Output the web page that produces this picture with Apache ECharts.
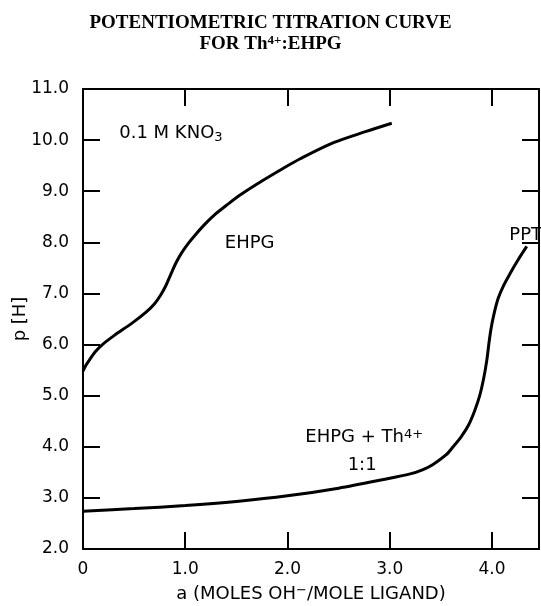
<!DOCTYPE html>
<html>
<head>
<meta charset="utf-8">
<script src="https://cdn.jsdelivr.net/npm/echarts@6/dist/echarts.min.js"></script>
<style>
html,body{margin:0;padding:0;background:#fff;}
#c{width:541px;height:606px;}
</style>
</head>
<body>
<div id="c"></div>
<script>
// EHPG alone (a, p[H])
var ehpgA = [0, 0.03, 0.07, 0.12, 0.19, 0.30, 0.48, 0.62, 0.70, 0.76, 0.81, 0.86, 0.91, 0.96, 1.03, 1.10, 1.20, 1.30, 1.40, 1.54, 1.75, 1.96, 2.12, 2.45, 2.77, 3.02];
var ehpgP = [5.48, 5.60, 5.72, 5.86, 6.00, 6.17, 6.42, 6.64, 6.80, 6.97, 7.15, 7.38, 7.60, 7.78, 7.98, 8.15, 8.37, 8.56, 8.72, 8.93, 9.20, 9.45, 9.63, 9.95, 10.17, 10.33];
// EHPG + Th4+ 1:1
var thA = [0, 0.5, 1.0, 1.5, 2.0, 2.5, 2.94, 3.2, 3.32, 3.42, 3.55, 3.62, 3.70, 3.77, 3.83, 3.88, 3.92, 3.95, 3.97, 3.99, 4.02, 4.06, 4.11, 4.18, 4.25, 4.34];
var thP = [2.74, 2.79, 2.85, 2.93, 3.04, 3.19, 3.36, 3.47, 3.55, 3.65, 3.84, 4.00, 4.20, 4.42, 4.70, 5.00, 5.35, 5.70, 6.02, 6.30, 6.60, 6.90, 7.14, 7.40, 7.64, 7.92];
// axis ranges / ticks
var xMin = 0, xMax = 4.46, xInterval = 1;
var yMin = 2, yMax = 11, yInterval = 1;
// annotations
var annoText = ['{t|0.1 M KNO}{sub|3}', 'EHPG', '{t|EHPG + Th}{sup|4+}', '1:1', 'PPT'];
var annoA = [0.86, 1.63, 2.75, 2.73, 4.33];
var annoP = [10.12, 7.96, 4.17, 3.62, 8.11];

var FONT = '"DejaVu Sans", sans-serif';
var INK = '#000';

function zip(a, b) { return a.map(function (v, i) { return [v, b[i]]; }); }

var chart = echarts.init(document.getElementById('c'), null, {renderer: 'canvas'});

var tickStyle = {show: true, inside: true, length: 17, lineStyle: {color: INK, width: 2}};
var lineStyleAxis = {show: true, onZero: false, lineStyle: {color: INK, width: 2}};

var labelRich = {
  t: {fontFamily: FONT, fontSize: 18, color: INK, lineHeight: 20, verticalAlign: 'top'},
  sub: {fontFamily: FONT, fontSize: 13, color: INK, lineHeight: 13, verticalAlign: 'bottom', padding: [10, 0, 0, 0]},
  sup: {fontFamily: FONT, fontSize: 13, color: INK, lineHeight: 13, verticalAlign: 'top'}
};

var option = {
  backgroundColor: '#fff',
  animation: false,
  title: {
    text: '{a|POTENTIOMETRIC TITRATION CURVE}\n{a|FOR Th}{s|4+}{a|:EHPG}',
    left: 'center',
    top: 8,
    textStyle: {
      rich: {
        a: {fontFamily: '"Liberation Serif", serif', fontSize: 19, fontWeight: 'bold', color: INK, lineHeight: 21},
        s: {fontFamily: '"Liberation Serif", serif', fontSize: 13, fontWeight: 'bold', color: INK, lineHeight: 13, verticalAlign: 'top'}
      }
    }
  },
  grid: {left: 83, right: 2, top: 89, bottom: 57, containLabel: false, outerBoundsMode: 'none'},
  xAxis: [{
    type: 'value', position: 'bottom', min: xMin, max: xMax, interval: xInterval,
    axisLine: lineStyleAxis, axisTick: tickStyle, splitLine: {show: false},
    axisLabel: {
      margin: 12, color: INK, fontFamily: FONT, fontSize: 17,
      formatter: function (v) { if (v === 0) return '0'; return Number.isInteger(v) ? v.toFixed(1) : ''; }
    },
    name: '{n|a (MOLES OH}{s|−}{n|/MOLE LIGAND)}',
    nameLocation: 'middle', nameGap: 35, nameMoveOverlap: false,
    nameTextStyle: {
      rich: {
        n: {fontFamily: FONT, fontSize: 18, color: INK, lineHeight: 20},
        s: {fontFamily: FONT, fontSize: 13, color: INK, lineHeight: 13, verticalAlign: 'top'}
      }
    }
  }, {
    type: 'value', position: 'top', min: xMin, max: xMax, interval: xInterval,
    axisLine: lineStyleAxis, axisTick: tickStyle, axisLabel: {show: false}, splitLine: {show: false}
  }],
  yAxis: [{
    type: 'value', position: 'left', min: yMin, max: yMax, interval: yInterval,
    axisLine: lineStyleAxis, axisTick: tickStyle, splitLine: {show: false},
    axisLabel: {
      margin: 14, color: INK, fontFamily: FONT, fontSize: 17,
      formatter: function (v) { return v.toFixed(1); }
    },
    name: 'p [H]', nameLocation: 'middle', nameGap: 54, nameRotate: 90, nameMoveOverlap: false,
    nameTextStyle: {fontFamily: FONT, fontSize: 18, color: INK}
  }, {
    type: 'value', position: 'right', min: yMin, max: yMax, interval: yInterval,
    axisLine: lineStyleAxis, axisTick: tickStyle, axisLabel: {show: false}, splitLine: {show: false}
  }],
  series: [{
    type: 'line', name: 'EHPG', data: zip(ehpgA, ehpgP), xAxisIndex: 0, yAxisIndex: 0,
    showSymbol: false, symbol: 'none', smooth: 0.3,
    lineStyle: {color: INK, width: 3}
  }, {
    type: 'line', name: 'EHPG + Th4+', data: zip(thA, thP), xAxisIndex: 0, yAxisIndex: 0,
    showSymbol: false, symbol: 'none', smooth: 0.3,
    lineStyle: {color: INK, width: 3}
  }, {
    type: 'scatter', xAxisIndex: 0, yAxisIndex: 0, symbolSize: 0, silent: true,
    itemStyle: {opacity: 1},
    data: annoText.map(function (t, i) { return {value: [annoA[i], annoP[i]], labelText: t}; }),
    label: {
      show: true, position: 'inside', color: INK, fontFamily: FONT, fontSize: 18,
      formatter: function (p) { return p.data.labelText.indexOf('{') === 0 ? p.data.labelText : '{t|' + p.data.labelText + '}'; },
      rich: labelRich
    }
  }]
};
chart.setOption(option);
</script>
</body>
</html>
